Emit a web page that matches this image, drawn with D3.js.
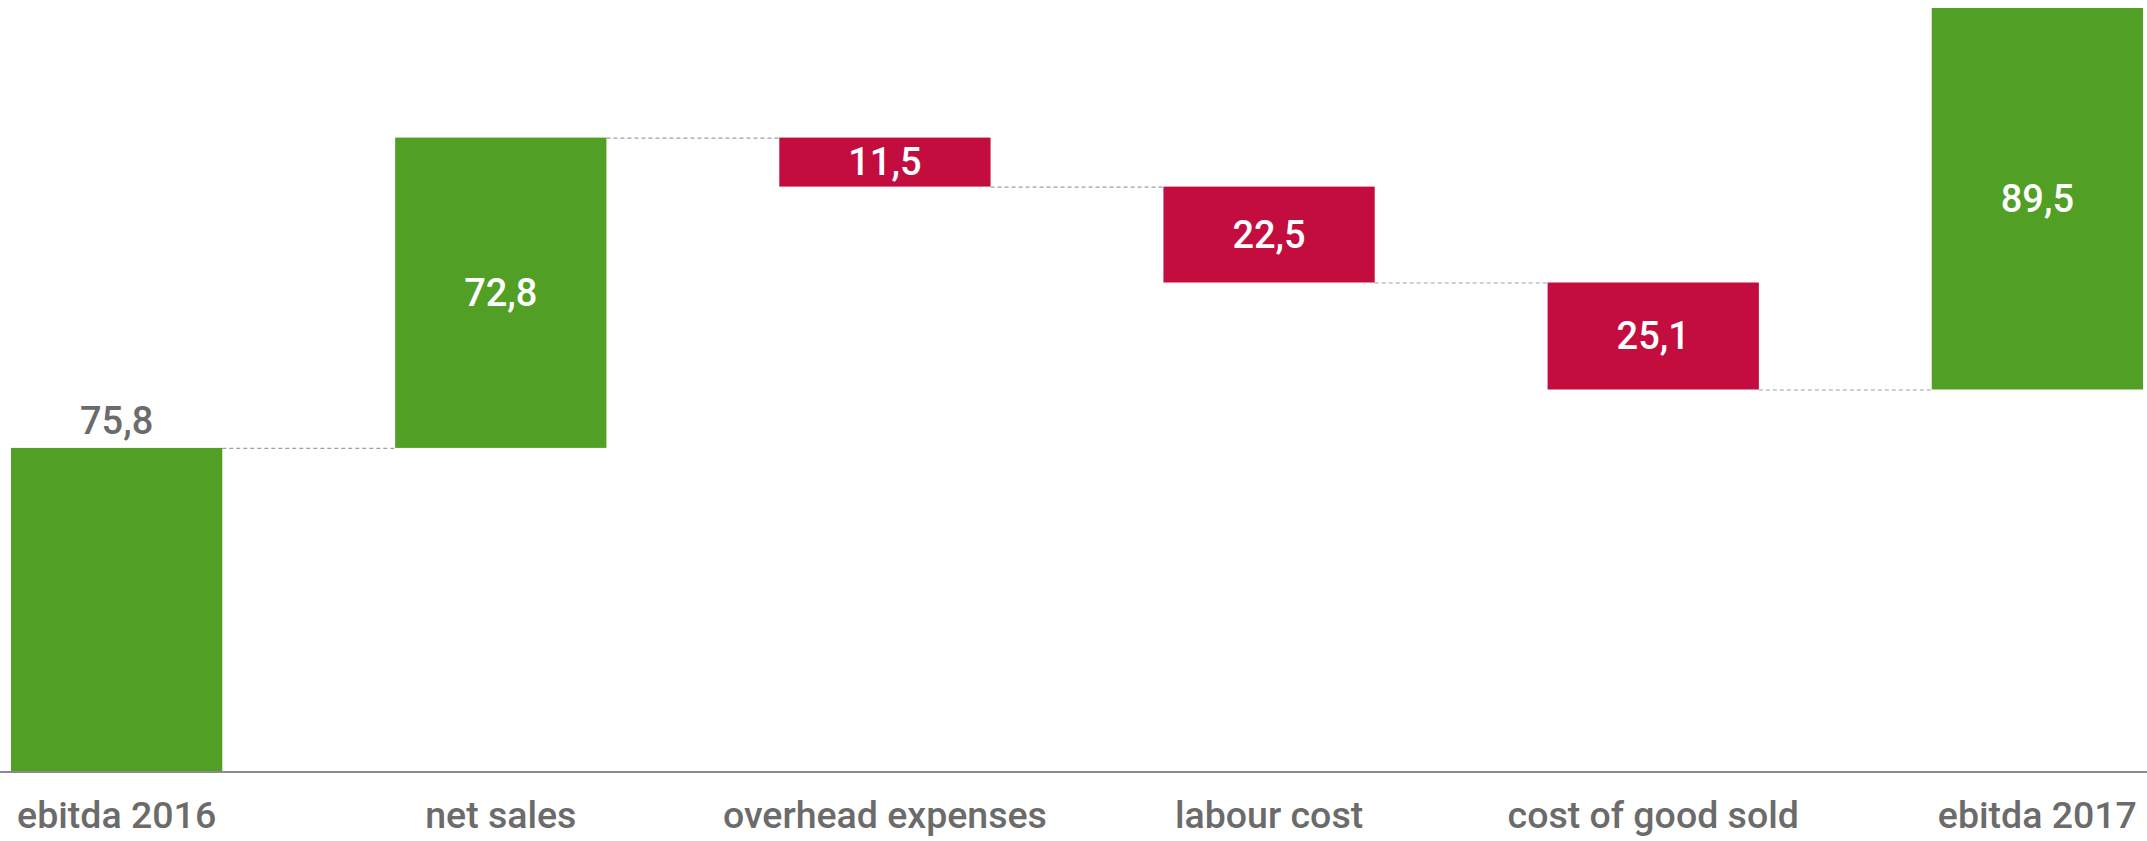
<!DOCTYPE html>
<html>
<head>
<meta charset="utf-8">
<script src="https://cdn.jsdelivr.net/npm/d3@7"></script>
<style>
  html, body { margin: 0; padding: 0; background: #fff; }
  svg { display: block; }
  text { font-family: Roboto, "Noto Sans", sans-serif; }
</style>
</head>
<body>
<script>
const categories = ["ebitda 2016", "net sales", "overhead expenses", "labour cost", "cost of good sold", "ebitda 2017"];
const values = [75.8, 72.8, -11.5, -22.5, -25.1, 89.5];
const colors = { up: "#519f25", down: "#c30d3e" };

const W = 2147, H = 841;
const svg = d3.select("body").append("svg").attr("width", W).attr("height", H);

// build waterfall
let running = 0;
const bars = categories.map((c, i) => {
  const start = running;
  const end = running + values[i];
  running = end;
  return { cat: c, value: values[i], start, end, i };
});

const x = d3.scaleBand().domain(categories).range([11, 2143]).paddingInner(0.45).paddingOuter(0);
const yMax = d3.max(bars, d => Math.max(d.start, d.end));
const y = d3.scaleLinear().domain([0, yMax]).range([771, 8]);

const fmt = v => d3.format(".1f")(Math.abs(v)).replace(".", ",");

// connectors
svg.append("g").selectAll("line").data(bars.slice(0, -1)).join("line")
  .attr("x1", d => x(d.cat) + x.bandwidth())
  .attr("x2", (d, i) => x(categories[i + 1]))
  .attr("y1", d => y(d.end) + 0.5)
  .attr("y2", d => y(d.end) + 0.5)
  .attr("stroke", "#a0a0a0").attr("stroke-width", 1.2).attr("stroke-dasharray", "4,3");

// bars
svg.append("g").selectAll("rect").data(bars).join("rect")
  .attr("x", d => x(d.cat))
  .attr("width", x.bandwidth())
  .attr("y", d => y(Math.max(d.start, d.end)))
  .attr("height", d => Math.abs(y(d.start) - y(d.end)))
  .attr("fill", d => d.value >= 0 ? colors.up : colors.down);

// value labels
svg.append("g").selectAll("text").data(bars).join("text")
  .attr("x", d => x(d.cat) + x.bandwidth() / 2)
  .attr("y", d => d.i === 0 ? y(d.end) - 14 : (y(d.start) + y(d.end)) / 2)
  .attr("dy", d => d.i === 0 ? 0 : "0.35em")
  .attr("text-anchor", "middle")
  .attr("font-size", 38)
  .attr("font-weight", 500)
  .attr("fill", d => d.i === 0 ? "#6b6b6b" : "#ffffff")
  .text(d => fmt(d.value));

// x axis
const xAxis = d3.axisBottom(x).tickSize(0).tickPadding(0);
const gx = svg.append("g").attr("transform", `translate(0,${y(0)})`).call(xAxis);
gx.select(".domain").remove();
svg.append("line").attr("x1", 0).attr("x2", W).attr("y1", y(0) + 1).attr("y2", y(0) + 1)
  .attr("stroke", "#8a8a8a").attr("stroke-width", 2);
gx.selectAll("text")
  .attr("y", 57)
  .attr("dy", 0)
  .attr("font-size", 37.5)
  .attr("font-weight", 500)
  .attr("font-family", "Roboto, sans-serif")
  .attr("fill", "#6b6b6b");
</script>
</body>
</html>
